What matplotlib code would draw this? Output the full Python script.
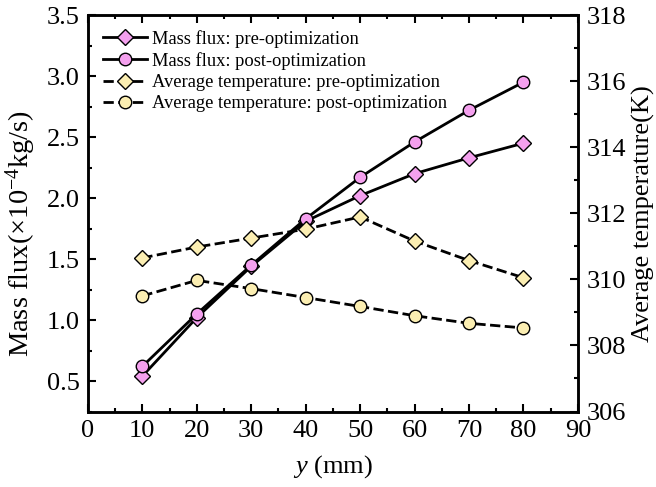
import matplotlib.pyplot as plt
from matplotlib.ticker import MultipleLocator

plt.rcParams['font.family'] = 'Liberation Serif'
plt.rcParams['mathtext.fontset'] = 'custom'
plt.rcParams['mathtext.rm'] = 'Liberation Serif'
plt.rcParams['mathtext.it'] = 'Liberation Serif:italic'

y_pos = [10, 20, 30, 40, 50, 60, 70, 80]
flux_pre = [0.54, 1.02, 1.44, 1.81, 2.02, 2.20, 2.33, 2.45]
flux_post = [0.62, 1.05, 1.45, 1.83, 2.17, 2.46, 2.72, 2.95]
temp_pre = [310.65, 310.98, 311.25, 311.52, 311.89, 311.16, 310.57, 310.05]
temp_post = [309.50, 309.97, 309.72, 309.45, 309.18, 308.90, 308.67, 308.53]

pink = '#f4a0ee'
yellow = '#fbeeb2'

fig = plt.figure(figsize=(6.56, 4.87), dpi=100)
ax = fig.add_axes([0.134, 0.155, 0.747, 0.814])
ax2 = ax.twinx()

l1, = ax.plot(y_pos, flux_pre, '-D', color='black', lw=2, ms=8,
              mfc=pink, mec='black', mew=1, label='Mass flux: pre-optimization')
l2, = ax.plot(y_pos, flux_post, '-o', color='black', lw=2, ms=9,
              mfc=pink, mec='black', mew=1, label='Mass flux: post-optimization')
l3, = ax2.plot(y_pos, temp_pre, '--D', color='black', lw=2, ms=8,
               mfc=yellow, mec='black', mew=1, label='Average temperature: pre-optimization')
l4, = ax2.plot(y_pos, temp_post, '--o', color='black', lw=2, ms=9,
               mfc=yellow, mec='black', mew=1, label='Average temperature: post-optimization')

ax.set_xlim(0, 90)
ax.set_ylim(0.25, 3.5)
ax2.set_ylim(306, 318)
ax.xaxis.set_major_locator(MultipleLocator(10))
ax.xaxis.set_minor_locator(MultipleLocator(5))
ax.yaxis.set_major_locator(MultipleLocator(0.5))
ax.yaxis.set_minor_locator(MultipleLocator(0.25))
ax2.yaxis.set_major_locator(MultipleLocator(2))
ax2.yaxis.set_minor_locator(MultipleLocator(1))

ax.tick_params(which='both', direction='in', top=True, right=False, width=1.5, labelsize=19)
ax.tick_params(which='major', length=6, pad=6)
ax.tick_params(which='minor', length=3)
ax2.tick_params(which='both', direction='in', width=1.5, labelsize=19)
ax2.tick_params(which='major', length=6, pad=6)
ax2.tick_params(which='minor', length=3)
for a in (ax, ax2):
    for s in a.spines.values():
        s.set_linewidth(1.8)

ax.set_xlabel('$y$ (mm)', fontsize=19, labelpad=8)
ax.set_ylabel('Mass flux(×10$^{-4}$kg/s)', fontsize=20.5)
ax.yaxis.set_label_coords(-0.102, 0.45)
ax2.set_ylabel('Average temperature(K)', fontsize=19, labelpad=4)

ax.legend(handles=[l1, l2, l3, l4], loc='upper left', frameon=False, fontsize=13.3,
          handlelength=2.4, labelspacing=0.23, handletextpad=0.25,
          borderaxespad=0.4, bbox_to_anchor=(0.0, 1.0))

fig.savefig('out.png', dpi=100)
